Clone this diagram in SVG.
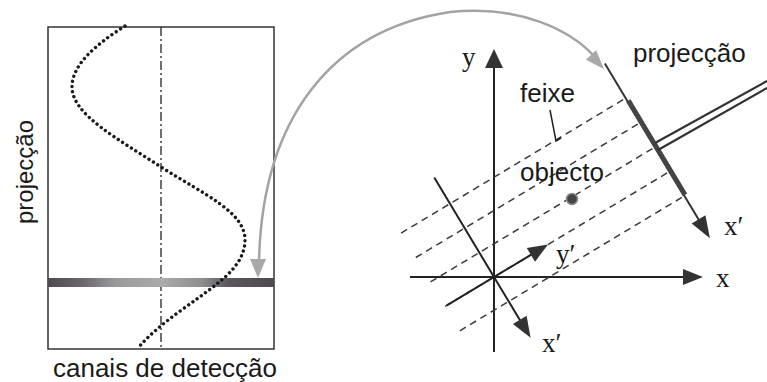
<svg xmlns="http://www.w3.org/2000/svg" width="767" height="382" viewBox="0 0 767 382">
<style>
.sans{font-family:"Liberation Sans",Arial,sans-serif;fill:#1a1a1a}
.serif{font-family:"Liberation Serif","Times New Roman",serif;fill:#1a1a1a}
.ax{stroke:#222;stroke-width:2;fill:none}
.head{fill:#333}
.beam{stroke:#3a3a3a;stroke-width:1.5;stroke-dasharray:7 5;fill:none}
.gray{stroke:#a3a3a3;stroke-width:2.5;fill:none}
</style>
<defs>
<linearGradient id="bar" x1="0" x2="1" y1="0" y2="0">
<stop offset="0" stop-color="#4e4a52"/>
<stop offset="0.15" stop-color="#6a666c"/>
<stop offset="0.3" stop-color="#9a9a9a"/>
<stop offset="0.5" stop-color="#ababab"/>
<stop offset="0.68" stop-color="#8e8e8e"/>
<stop offset="0.8" stop-color="#5a565c"/>
<stop offset="1" stop-color="#4e4a52"/>
</linearGradient>
</defs>

<g id="sinogram">
<rect x="48" y="27" width="226" height="322" fill="none" stroke="#333" stroke-width="1.5"/>
<line x1="161" y1="27" x2="161" y2="349" stroke="#222" stroke-width="1.3" stroke-dasharray="9 3 2 3"/>
<rect x="48" y="278" width="226" height="9" fill="url(#bar)"/>
<path d="M125,26 C95,45 72,65 72,87 C72,115 120,140 161,167 C205,195 245,212 245,240 C245,258 232,272 218,283 C195,302 160,322 138,348" fill="none" stroke="#1a1a1a" stroke-width="3.4" stroke-dasharray="0.01 5.2" stroke-linecap="round"/>
<text class="sans" font-size="24" text-anchor="middle" transform="translate(33,172) rotate(-90)">projecção</text>
<text class="sans" x="165" y="377" font-size="26" text-anchor="middle">canais de detecção</text>
</g>

<g id="connectors">
<path class="gray" d="M259,262 C262,120 330,30 450,12 C520,5 570,30 594,56"/>
<polygon fill="#a8a8a8" points="258,278 250,259 266,259"/>
<polygon fill="#a8a8a8" points="604,69 585.9,59.8 596.1,50.2"/>
</g>

<g id="axes">
<line class="ax" x1="494" y1="352" x2="494" y2="66"/>
<polygon class="head" points="494,49 485,68 503,68"/>
<line class="ax" x1="410" y1="277" x2="685" y2="277"/>
<polygon class="head" points="703,277 683,269 683,285"/>
<text class="serif" x="462" y="66" font-size="27">y</text>
<text class="serif" x="716" y="287" font-size="27">x</text>
</g>

<g id="beam" transform="translate(494,277) rotate(-31)">
<line class="beam" x1="-57" y1="-85.5" x2="202" y2="-85.5"/>
<line class="beam" x1="-57" y1="-57" x2="202" y2="-57"/>
<line class="beam" x1="-57" y1="-28.5" x2="202" y2="-28.5"/>
<line class="beam" x1="-57" y1="0" x2="202" y2="0"/>
<line class="beam" x1="-57" y1="28.5" x2="202" y2="28.5"/>
</g>

<g id="rotated-axes" transform="translate(494,277) rotate(-31)">
<line class="ax" x1="-55" y1="0" x2="45" y2="0"/>
<polygon class="head" points="63,0 43,-8 43,8"/>
<line class="ax" x1="0" y1="-116" x2="0" y2="52"/>
<polygon class="head" points="0,71 -8,50 8,50"/>
</g>
<text class="serif" x="556" y="263" font-size="27">y′</text>
<text class="serif" x="542" y="352" font-size="27">x′</text>

<g id="detector" transform="translate(494,277) rotate(-31)">
<line stroke="#333" stroke-width="2" x1="205" y1="-126" x2="205" y2="57"/>
<line stroke="#444" stroke-width="5" x1="206" y1="-82" x2="206" y2="28"/>
<polygon class="head" points="205,78 197,56 213,56"/>
</g>
<g id="source">
<line stroke="#333" stroke-width="2.2" x1="655" y1="143" x2="767" y2="81"/>
<line stroke="#333" stroke-width="2.2" x1="658" y1="150" x2="767" y2="88"/>
</g>
<text class="serif" x="724" y="235" font-size="27">x′</text>
<text class="sans" x="633" y="62" font-size="26">projecção</text>

<g id="feixe">
<text class="sans" x="520" y="102" font-size="26">feixe</text>
<polyline points="550,110 556,141 561,138" fill="none" stroke="#222" stroke-width="1.5"/>
</g>

<g id="objecto">
<text class="sans" x="520" y="181" font-size="26">objecto</text>
<circle cx="572" cy="199" r="5.5" fill="#444" stroke="#8a8a8a" stroke-width="1.5"/>
</g>
</svg>
